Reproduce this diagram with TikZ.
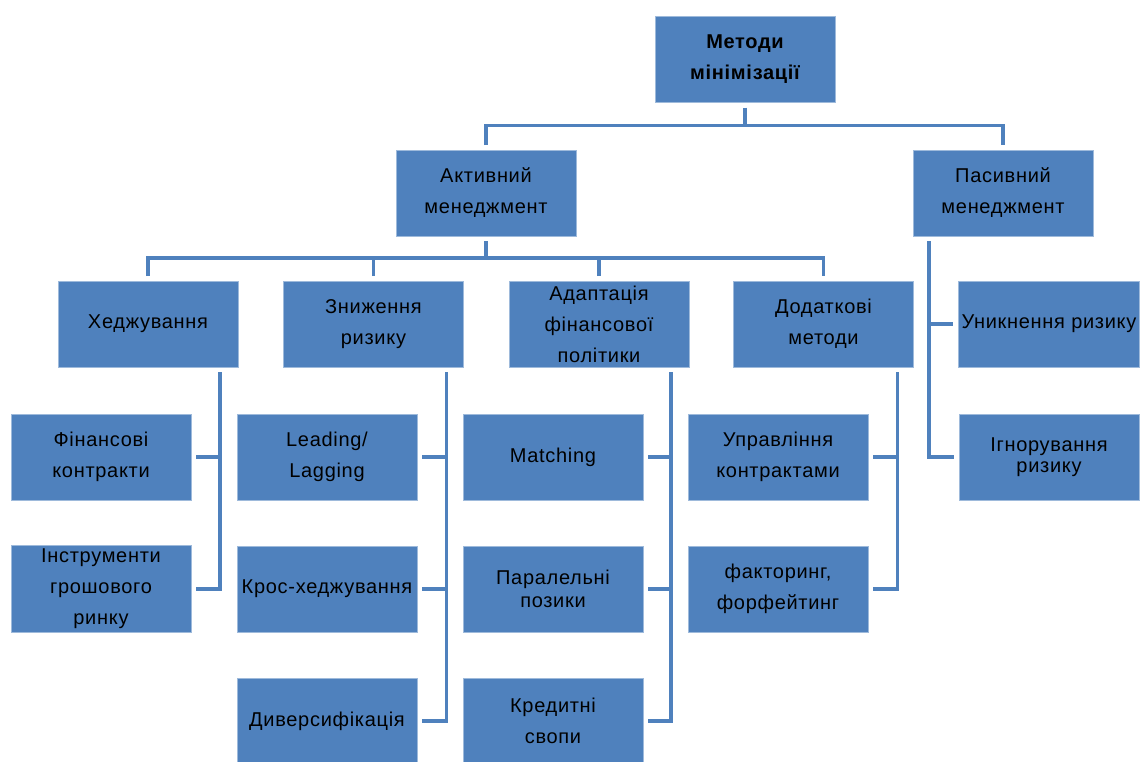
\documentclass[tikz,border=0pt]{standalone}
\usepackage{fontspec}
\setmainfont{Liberation Sans}[LetterSpace=3.5]
\definecolor{boxblue}{HTML}{4F81BD}
\begin{document}
\begin{tikzpicture}[x=1pt,y=-1pt,
        box/.style={rectangle,fill=boxblue,draw=boxblue!55!white,line width=0.6pt,
            minimum width=180pt,minimum height=86pt,outer sep=5pt,align=center,
            font=\fontsize{20}{31}\selectfont},
        link/.style={draw=boxblue,line width=3.5pt}]
        \useasboundingbox (0,0) rectangle (1141,761);
        \clip (0,0) rectangle (1141,761);
        \node[box,font=\bfseries\fontsize{20}{31}\selectfont] (root) at (745,59.5) {Методи\\мінімізації};
        \node[box] (act) at (486,193) {Активний\\менеджмент};
        \node[box] (pas) at (1003,193) {Пасивний\\менеджмент};
        \node[box] (hedge) at (148,324) {Хеджування};
        \node[box] (reduce) at (373.5,324) {Зниження\\ризику};
        \node[box] (adapt) at (599,324) {Адаптація\\фінансової\\політики};
        \node[box] (extra) at (823.5,324) {Додаткові\\методи};
        \node[box] (fin) at (101,457) {Фінансові\\контракти};
        \node[box] (instr) at (101,589) {Інструменти\\грошового\\ринку};
        \node[box] (lead) at (327,457) {Leading/\\Lagging};
        \node[box] (cross) at (327,589) {Крос-хеджування};
        \node[box] (divers) at (327,721) {Диверсифікація};
        \node[box] (match) at (553,457) {Matching};
        \node[box] (parallel) at (553,589) {Паралельні\\[-8pt]позики};
        \node[box] (swaps) at (553,721) {Кредитні\\свопи};
        \node[box] (contr) at (778,457) {Управління\\контрактами};
        \node[box] (factor) at (778,589) {факторинг,\\форфейтинг};
        \node[box] (avoid) at (1049,324) {Уникнення ризику};
        \node[box] (ignore) at (1049,457) {Ігнорування\\[-10pt]ризику};
        % top levels
        \draw[link] (root.south) -- ++(0,18) coordinate (j0);
        \draw[link] (act.north) |- (j0) -| (pas.north);
        \draw[link] (act.south) -- ++(0,17) coordinate (j1);
        \draw[link] (hedge.north) |- (j1) -| (extra.north);
        \draw[link] (reduce.north) -- (reduce.north |- j1);
        \draw[link] (adapt.north) -- (adapt.north |- j1);
        % side spines
        \coordinate (sh) at ([xshift=-23pt]hedge.south east);
        \coordinate (sr) at ([xshift=-22pt]reduce.south east);
        \coordinate (sa) at ([xshift=-23pt]adapt.south east);
        \coordinate (se) at ([xshift=-21pt]extra.south east);
        \coordinate (sp) at ([xshift=21pt]pas.south west);
        \draw[link] (sh) |- (fin.east);
        \draw[link] (sh) |- (instr.east);
        \draw[link] (sr) |- (lead.east);
        \draw[link] (sr) |- (cross.east);
        \draw[link] (sr) |- (divers.east);
        \draw[link] (sa) |- (match.east);
        \draw[link] (sa) |- (parallel.east);
        \draw[link] (sa) |- (swaps.east);
        \draw[link] (se) |- (contr.east);
        \draw[link] (se) |- (factor.east);
        \draw[link] (sp) |- (avoid.west);
        \draw[link] (sp) |- (ignore.west);
    \end{tikzpicture}
\end{document}
